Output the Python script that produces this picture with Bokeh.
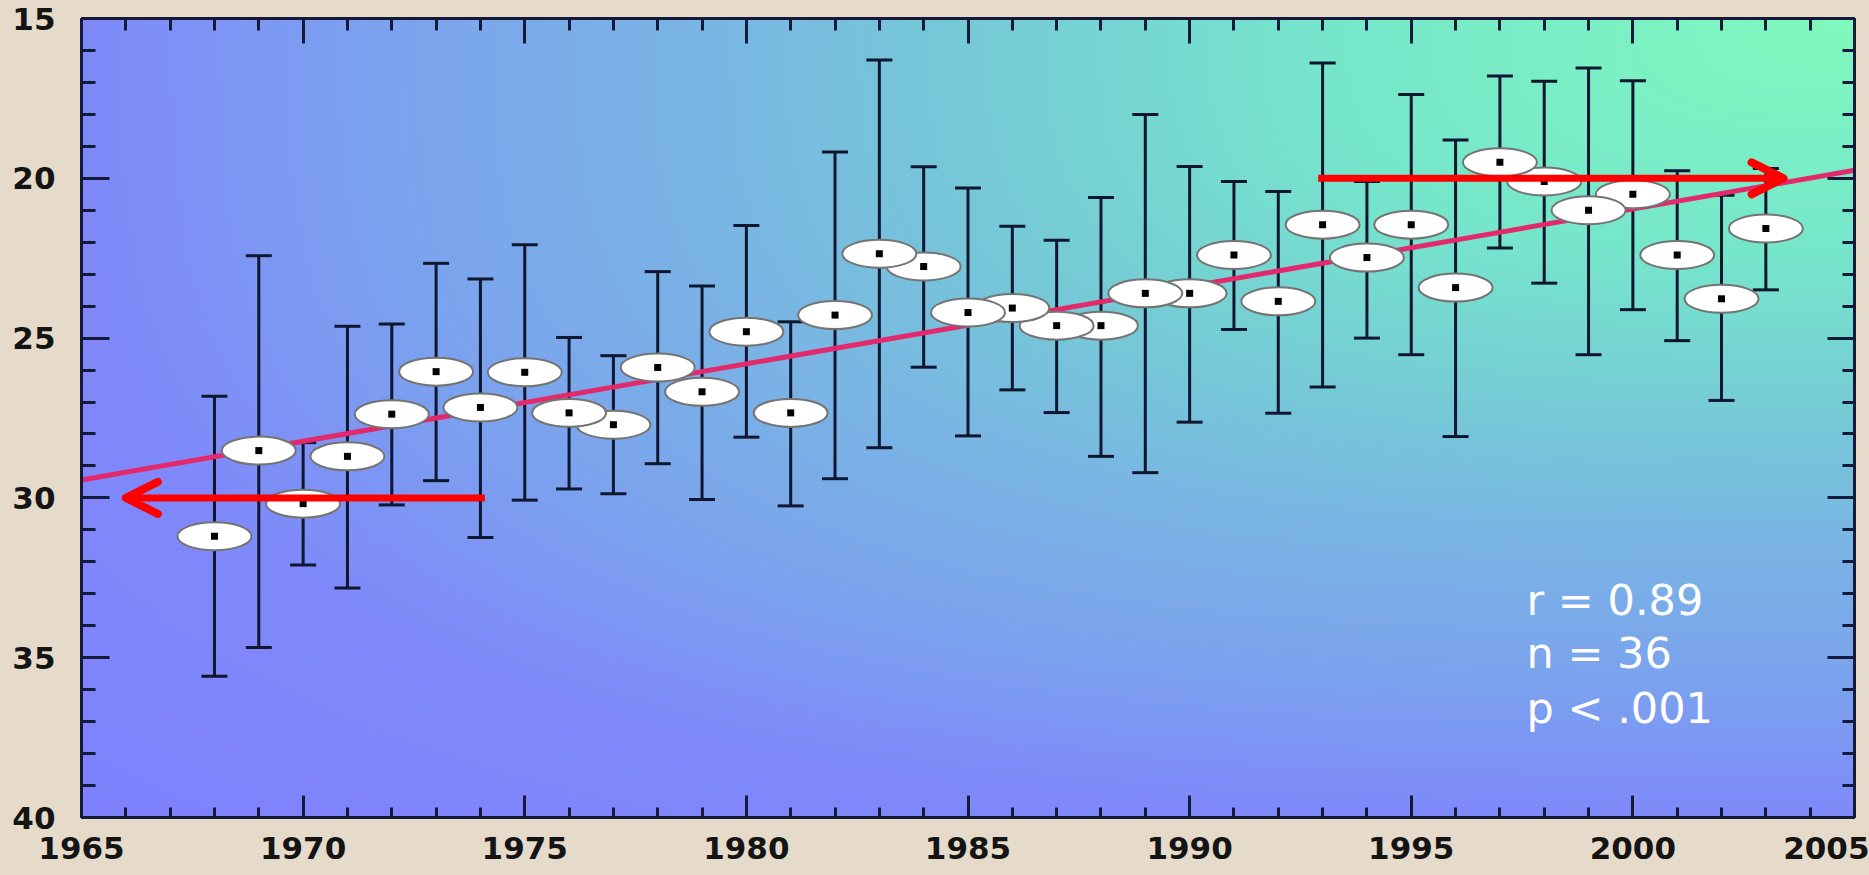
import numpy as np
from bokeh.plotting import figure
from bokeh.models import (Range1d, LinearAxis, SingleIntervalTicker, ColumnDataSource,
                          Whisker, TeeHead, Arrow, OpenHead, Label, GlobalInlineStyleSheet)
from bokeh.embed import file_html
from bokeh.resources import INLINE

# ---------------- data ----------------
years = list(range(1968, 2004))
means = [31.20, 28.52, 30.18, 28.70, 27.38, 26.05, 27.17, 26.07, 27.34, 27.71,
         25.92, 26.68, 24.80, 27.34, 24.28, 22.36, 22.76, 24.20, 24.06, 24.61,
         24.61, 23.60, 23.60, 22.40, 23.85, 21.45, 22.48, 21.45, 23.42, 19.50,
         20.10, 21.00, 20.50, 22.40, 23.77, 21.57]
bar_top = [26.82, 22.42, 28.27, 24.63, 24.56, 22.66, 23.15, 22.08, 24.98, 25.55,
           22.92, 23.37, 21.48, 24.49, 19.18, 16.30, 19.64, 20.30, 21.50, 21.94,
           20.60, 18.00, 19.63, 20.10, 20.41, 16.39, 20.10, 17.38, 18.80, 16.80,
           16.96, 16.55, 16.95, 19.76, 20.53, 19.69]
bar_bottom = [35.58, 34.68, 32.10, 32.82, 30.22, 29.46, 31.24, 30.07, 29.72, 29.87,
              28.93, 30.05, 28.10, 30.25, 29.40, 28.43, 25.91, 28.06, 26.62, 27.33,
              28.70, 29.21, 27.63, 24.73, 27.35, 26.53, 25.00, 25.52, 28.08, 22.18,
              23.28, 25.52, 24.11, 25.08, 26.95, 23.49]

trend_years = [1965, 2005]
trend_values = [29.44, 19.75]

arrow_left_x = [1974.1, 1966.0]
arrow_left_y = 30.0
arrow_right_x = [1992.9, 2003.4]
arrow_right_y = 20.0

stats_text = ["r = 0.89", "n = 36", "p < .001"]
stats_x = 1997.6
stats_y = [33.20, 34.86, 36.58]

x_start, x_end = 1965, 2005
y_bottom, y_top = 40, 15

# ---------------- styling ----------------
AXIS = "#151a3a"
BAR = "#0e1630"
FONT = "DejaVu Sans"
PAGE_BG = "#E6DACA"

page_css = GlobalInlineStyleSheet(
    css=f"html, body {{ margin: 0; padding: 0; background: {PAGE_BG}; overflow: hidden; }}")

p = figure(width=1869, height=875,
           x_range=Range1d(x_start, x_end), y_range=Range1d(y_bottom, y_top),
           output_backend="svg", toolbar_location=None,
           min_border_left=81, min_border_right=15, min_border_top=18, min_border_bottom=58)
p.stylesheets = [page_css]
p.border_fill_color = PAGE_BG
p.outline_line_color = None
p.grid.visible = False

# gradient background of the plotting area (separate 0..1 ranges)
p.extra_x_ranges = {"bgx": Range1d(0, 1)}
p.extra_y_ranges = {"bgy": Range1d(0, 1)}
nx, ny = 480, 240
U, V = np.meshgrid(np.linspace(0, 1, nx), np.linspace(0, 1, ny))
d = ((1 - U) ** 3 + (1 - V) ** 3) ** (1 / 3)
ds = [0.0, 0.30, 0.50, 0.65, 0.85, 1.00, 1.30]
Rs = [128, 118, 118, 122, 124, 127, 128]
Gs = [250, 230, 202, 182, 160, 138, 128]
Bs = [190, 204, 215, 228, 240, 250, 255]
img = np.empty((ny, nx), dtype=np.uint32)
view = img.view(dtype=np.uint8).reshape((ny, nx, 4))
view[..., 0] = np.interp(d, ds, Rs).astype(np.uint8)
view[..., 1] = np.interp(d, ds, Gs).astype(np.uint8)
view[..., 2] = np.interp(d, ds, Bs).astype(np.uint8)
view[..., 3] = 255
p.image_rgba(image=[img], x=0, y=0, dw=1, dh=1,
             x_range_name="bgx", y_range_name="bgy", level="image")


def style_axis(ax, major_in, minor_in, labels=True):
    ax.ticker = SingleIntervalTicker(interval=5, num_minor_ticks=5)
    ax.axis_line_color = AXIS
    ax.axis_line_width = 3
    ax.major_tick_line_color = AXIS
    ax.major_tick_line_width = 3
    ax.major_tick_in = major_in
    ax.major_tick_out = 0
    ax.minor_tick_line_color = AXIS
    ax.minor_tick_line_width = 3
    ax.minor_tick_in = minor_in
    ax.minor_tick_out = 0
    if labels:
        ax.major_label_text_font = FONT
        ax.major_label_text_font_style = "bold"
        ax.major_label_text_font_size = "31px"
        ax.major_label_text_color = "#141414"
    else:
        ax.major_label_text_color = None
        ax.major_label_text_font_size = "1px"
        ax.major_label_standoff = 0


style_axis(p.xaxis[0], 22, 10)
p.xaxis[0].major_label_standoff = 19
style_axis(p.yaxis[0], 28, 14)
p.yaxis[0].major_label_standoff = 26

top_ax = LinearAxis()
style_axis(top_ax, 25, 12, labels=False)
p.add_layout(top_ax, "above")
right_ax = LinearAxis()
style_axis(right_ax, 27, 12, labels=False)
p.add_layout(right_ax, "right")

# reversed draw order: earlier years end up on top
src = ColumnDataSource(dict(year=years[::-1], mean=means[::-1],
                            top=bar_top[::-1], bottom=bar_bottom[::-1]))

whisk = Whisker(source=src, base="year", upper="top", lower="bottom",
                line_color=BAR, line_width=3, level="underlay",
                upper_head=TeeHead(size=26, line_color=BAR, line_width=3),
                lower_head=TeeHead(size=26, line_color=BAR, line_width=3))
p.add_layout(whisk)

p.line(trend_years, trend_values, line_color="#E3296C", line_width=5)

p.ellipse(x="year", y="mean", width=74, height=28,
          width_units="screen", height_units="screen", source=src,
          fill_color="#FFFFFF", line_color="#747474", line_width=2)
p.scatter(x="year", y="mean", source=src, marker="square", size=7,
          fill_color="#000000", line_color=None)

for xs, yv in ((arrow_left_x, arrow_left_y), (arrow_right_x, arrow_right_y)):
    p.add_layout(Arrow(x_start=xs[0], y_start=yv, x_end=xs[1], y_end=yv,
                       line_color="#FF0000", line_width=7,
                       end=OpenHead(size=32, line_color="#FF0000", line_width=8,
                                    line_cap="round", line_join="round")))

for t, yv in zip(stats_text, stats_y):
    p.add_layout(Label(x=stats_x, y=yv, text=t, text_color="#FFFFFF",
                       text_font=FONT, text_font_size="43px",
                       text_baseline="alphabetic", text_align="left"))

open("out.html", "w").write(file_html(p, INLINE))
